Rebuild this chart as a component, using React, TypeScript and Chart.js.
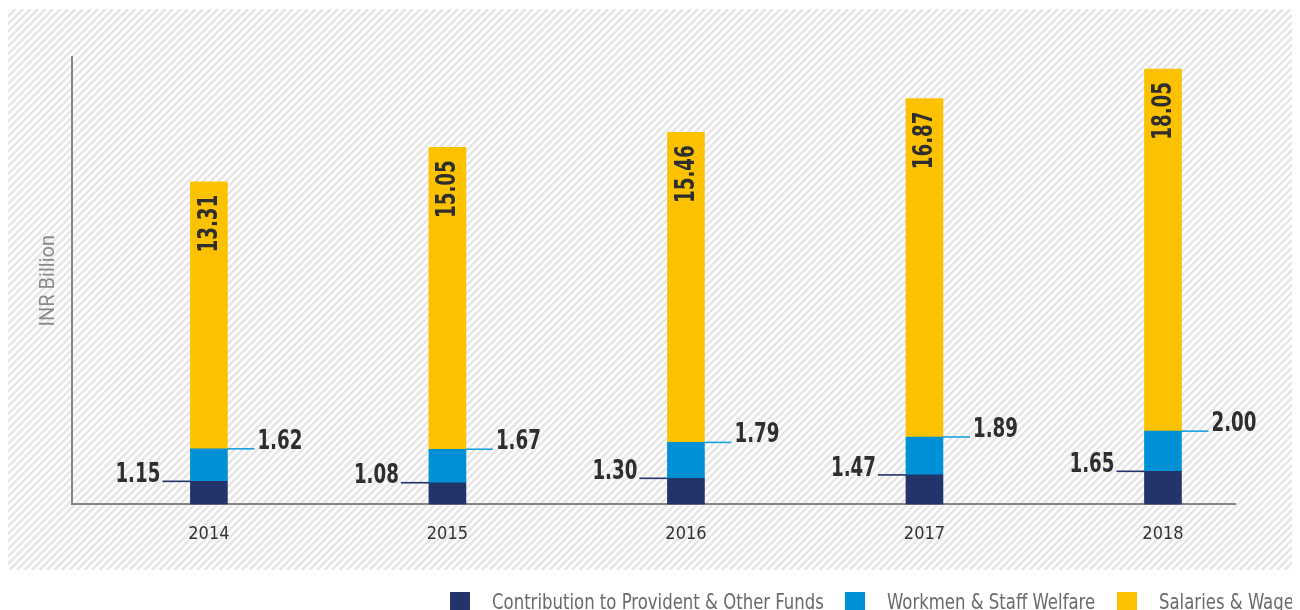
import React, { useEffect, useRef } from "react";
import { Chart, registerables } from "chart.js";

Chart.register(...registerables);

const years = [2014, 2015, 2016, 2017, 2018];
const yearLabels = ["2014", "2015", "2016", "2017", "2018"];
const providentFunds = [1.15, 1.08, 1.3, 1.47, 1.65];
const staffWelfare = [1.62, 1.67, 1.79, 1.89, 2.0];
const salariesWages = [13.31, 15.05, 15.46, 16.87, 18.05];
const seriesNames = [
  "Contribution to Provident & Other Funds",
  "Workmen & Staff Welfare",
  "Salaries & Wages",
];
const seriesColors = ["#23346a", "#0090d5", "#fcc200"];
const yAxisTitle = "INR Billion";

const NARROW = "'DejaVu Sans Condensed', 'DejaVu Sans', sans-serif";

const hatchPlugin = {
  id: "hatch",
  beforeDraw(chart: any) {
    const ctx = chart.ctx;
    const w = chart.width;
    const top = 1;
    const bottom = 562;
    ctx.save();
    ctx.fillStyle = "#ffffff";
    ctx.fillRect(0, 0, w, chart.height);
    ctx.beginPath();
    ctx.rect(-1, top, w + 1, bottom - top);
    ctx.clip();
    ctx.strokeStyle = "#e6e6e6";
    ctx.lineWidth = 2.6;
    const h = bottom - top;
    ctx.beginPath();
    for (let k = -h; k < w + h; k += 7.5) {
      ctx.moveTo(k, bottom);
      ctx.lineTo(k + h, top);
    }
    ctx.stroke();
    ctx.restore();
  },
};

function narrowText(ctx: any, txt: string, x: number, y: number, sx: number) {
  ctx.save();
  ctx.translate(x, y);
  ctx.scale(sx, 1);
  ctx.fillText(txt, 0, 0);
  ctx.restore();
}

const labelPlugin = {
  id: "barLabels",
  afterDatasetsDraw(chart: any) {
    const ctx = chart.ctx;
    ctx.save();
    ctx.font = `bold 26px ${NARROW}`;
    ctx.fillStyle = "#2e2e2e";
    const sx = 0.78;
    chart.data.datasets.forEach((ds: any, di: number) => {
      const meta = chart.getDatasetMeta(di);
      meta.data.forEach((bar: any, i: number) => {
        const v = ds.data[i].y;
        const txt = v.toFixed(2);
        const half = bar.width / 2;
        if (di === 0) {
          const x1 = bar.x - half;
          const x0 = x1 - 28;
          ctx.strokeStyle = seriesColors[0];
          ctx.lineWidth = 1.6;
          ctx.beginPath();
          ctx.moveTo(x0, bar.y);
          ctx.lineTo(x1, bar.y);
          ctx.stroke();
          ctx.textAlign = "right";
          ctx.textBaseline = "middle";
          narrowText(ctx, txt, x0 - 2, bar.y - 6, sx);
        } else if (di === 1) {
          const x0 = bar.x + half;
          const x1 = x0 + 27;
          ctx.strokeStyle = "#1ba0e0";
          ctx.lineWidth = 1.6;
          ctx.beginPath();
          ctx.moveTo(x0, bar.y);
          ctx.lineTo(x1, bar.y);
          ctx.stroke();
          ctx.textAlign = "left";
          ctx.textBaseline = "middle";
          narrowText(ctx, txt, x1 + 3, bar.y - 7, sx);
        } else {
          ctx.save();
          ctx.translate(bar.x, bar.y + 13);
          ctx.rotate(-Math.PI / 2);
          ctx.textAlign = "right";
          ctx.textBaseline = "middle";
          narrowText(ctx, txt, 0, 1, sx);
          ctx.restore();
        }
      });
    });
    ctx.restore();
  },
};

const legendPlugin = {
  id: "customLegend",
  afterDraw(chart: any) {
    const ctx = chart.ctx;
    const starts = [442, 837, 1109];
    ctx.save();
    ctx.font = `22px ${NARROW}`;
    ctx.textAlign = "left";
    ctx.textBaseline = "alphabetic";
    chart.data.datasets.forEach((ds: any, i: number) => {
      const x = starts[i];
      ctx.fillStyle = ds.backgroundColor;
      ctx.fillRect(x, 584, 20, 20);
      ctx.fillStyle = "#6a6a6a";
      narrowText(ctx, ds.label, x + 42, 601, 0.835);
    });
    ctx.restore();
  },
};

function ChartView() {
  const ref = useRef<HTMLCanvasElement | null>(null);
  useEffect(() => {
    if (!ref.current) return;
    const mk = (vals: number[]) => vals.map((v, i) => ({ x: years[i], y: v }));
    const chart = new Chart(ref.current, {
      type: "bar",
      data: {
        datasets: [
          { label: seriesNames[0], data: mk(providentFunds), backgroundColor: seriesColors[0] },
          { label: seriesNames[1], data: mk(staffWelfare), backgroundColor: seriesColors[1] },
          { label: seriesNames[2], data: mk(salariesWages), backgroundColor: seriesColors[2] },
        ] as any,
      },
      options: {
        animation: false,
        responsive: false,
        maintainAspectRatio: false,
        devicePixelRatio: 1,
        datasets: { bar: { barThickness: 37, grouped: false } } as any,
        layout: { padding: { left: 0, right: 65, top: 49, bottom: 46 } },
        plugins: { legend: { display: false }, tooltip: { enabled: false } },
        scales: {
          x: {
            type: "linear",
            stacked: true,
            min: 2013.426,
            max: 2018.302,
            offset: false,
            grid: { display: false, drawTicks: false },
            border: { display: true, color: "#858585", width: 2 },
            afterBuildTicks: (scale: any) => {
              scale.ticks = years.map((v) => ({ value: v }));
            },
            ticks: {
              padding: 19,
              color: "#333333",
              font: { family: NARROW, size: 18 },
              maxRotation: 0,
              autoSkip: false,
              callback: (v: any) => {
                const idx = years.indexOf(Number(v));
                return idx >= 0 ? yearLabels[idx] : "";
              },
            },
          },
          y: {
            stacked: true,
            min: 0,
            max: 22.3,
            grid: { display: false, drawTicks: false },
            border: { display: true, color: "#858585", width: 2 },
            ticks: { display: false },
            title: {
              display: true,
              text: yAxisTitle,
              color: "#8a8a8a",
              font: { family: "Roboto, sans-serif", size: 20 },
              padding: { top: 29, bottom: 11 },
            },
          },
        },
      } as any,
      plugins: [hatchPlugin, labelPlugin, legendPlugin],
    });
    return () => chart.destroy();
  }, []);
  return <canvas ref={ref} width={1292} height={602} style={{ display: "block", width: 1292, height: 602 }} />;
}

export default function App() {
  return (
    <div style={{ width: 1292, height: 602, overflow: "hidden" }}>
      <ChartView />
    </div>
  );
}
